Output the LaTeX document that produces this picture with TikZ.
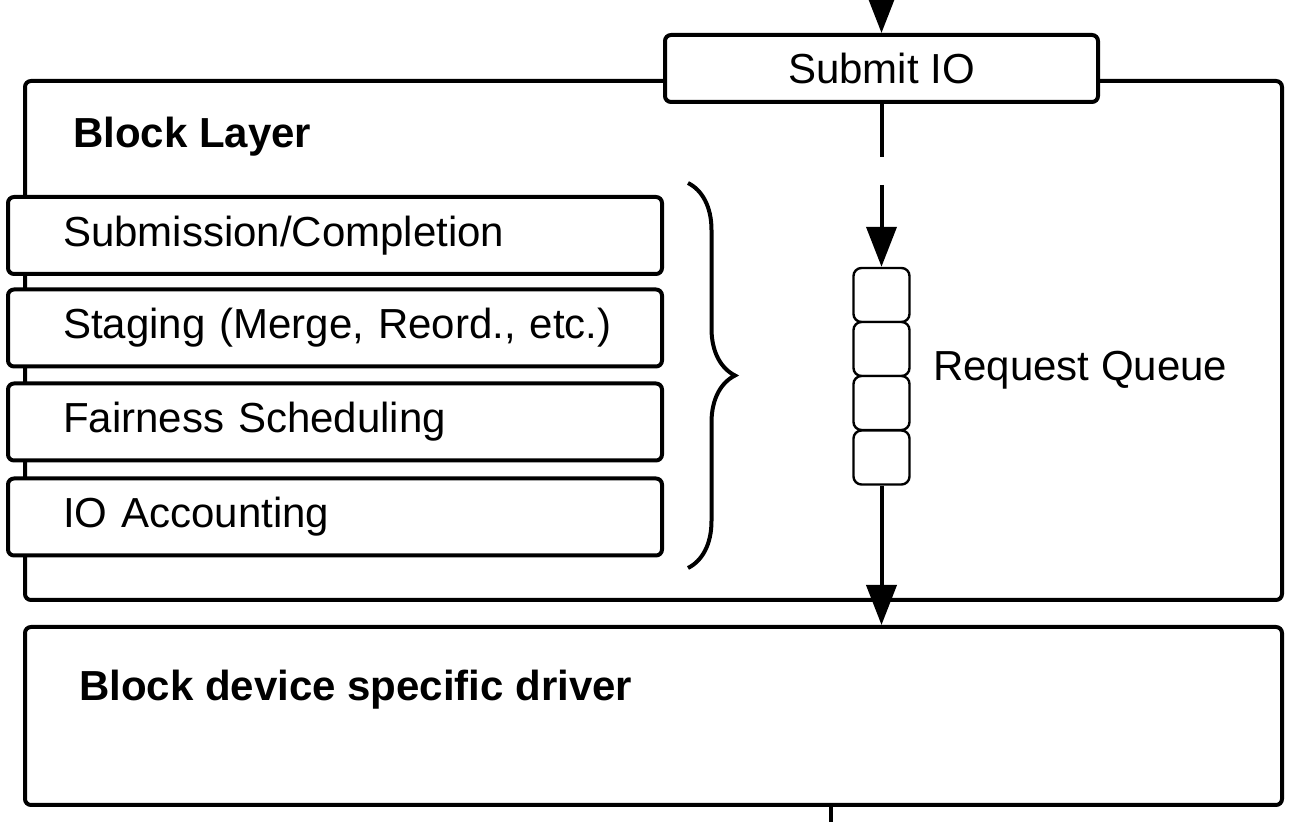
\documentclass[tikz,border=0pt]{standalone}
\usepackage{fontspec}
\setmainfont{Liberation Sans}
\usetikzlibrary{arrows.meta,decorations.pathreplacing}

\newcommand{\diagfont}{\fontsize{21}{25}\selectfont}

\tikzset{
    box/.style={draw, line width=2pt, rounded corners=3pt, fill=white},
    stagebox/.style={box, minimum height=38.5pt, text width=280pt,
        inner xsep=23.5pt, align=left, execute at begin node=\hspace*{4pt}},
    qbox/.style={draw, line width=1.2pt, rounded corners=4pt, fill=white,
        minimum width=28pt, minimum height=27pt, inner sep=0pt},
    flow/.style={line width=2pt, -{Triangle[length=20pt,width=15pt]}},
    title/.style={anchor=west, font=\diagfont\bfseries}
}

\begin{document}
\begin{tikzpicture}[x=0.5pt, y=-0.5pt, font=\diagfont]
    \useasboundingbox (0,0) rectangle (1298,822);

    % block layer frame
    \node[box, minimum width=628.5pt, minimum height=259.5pt] (layer) at (653.5,340.5) {};
    \node[title] (layertitle) at (66,137) {Block Layer};

    \node[box, minimum width=216.5pt, minimum height=33.5pt, inner sep=0pt] (submit) at (881.5,68.5) {Submit IO};

    % stages
    \node[stagebox] (sub) at (335,235.5) {Submission/Completion};
    \node[stagebox] (stage) at (335,328) {Staging (Merge, Reord., etc.)};
    \node[stagebox] (fair) at (335,422) {Fairness Scheduling};
    \node[stagebox] (acct) at (335,517) {IO Accounting};

    \draw[line width=2pt, decorate, decoration={brace, amplitude=23.5pt}]
        (688,183) -- (688,568);

    % request queue
    \node[qbox] (q1) at (881.5,295) {};
    \node[qbox] (q2) at (881.5,349) {};
    \node[qbox] (q3) at (881.5,403) {};
    \node[qbox] (q4) at (881.5,457.5) {};
    \node[anchor=west] (qlabel) at (926,370) {Request Queue};

    % driver
    \node[box, minimum width=628.5pt, minimum height=89pt] (driver) at (653.5,716) {};
    \node[title] (drivertitle) at (72,690) {Block device specific driver};

    \coordinate (in) at (881.5,0);
    \coordinate (out) at (831,822);

    \draw[flow] (in) -- (submit.north);
    \draw[flow, dash pattern=on 26.5pt off 14pt on 80pt] (submit.south) -- (q1.north);
    \draw[flow] (q4.south) -- (q4.south |- driver.north);
    \draw[line width=2pt] (driver.south -| out) -- (out);
\end{tikzpicture}
\end{document}
